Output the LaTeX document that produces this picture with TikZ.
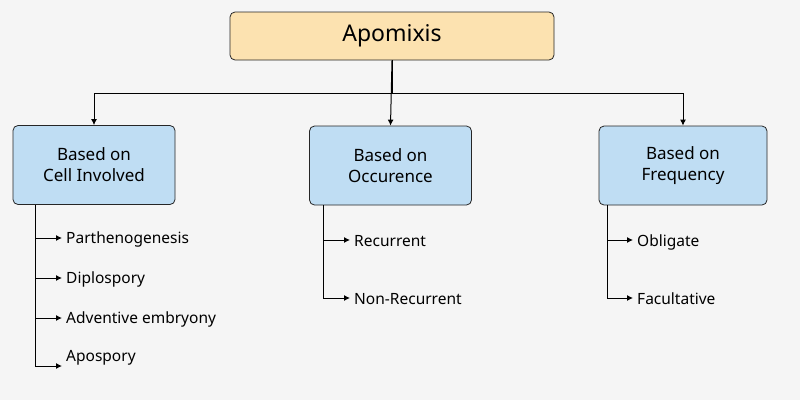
\documentclass[tikz,border=0pt]{standalone}
\usepackage{fontspec}
\setmainfont{Noto Sans}
\usetikzlibrary{arrows.meta}
\definecolor{bg}{HTML}{F5F5F5}
\definecolor{topfill}{HTML}{FCE2B0}
\definecolor{boxfill}{HTML}{BFDDF3}
\begin{document}
\begin{tikzpicture}[x=1pt,y=-1pt,
  box/.style={draw=black!85,line width=0.8pt,rounded corners=5pt,fill=boxfill,minimum width=162pt,minimum height=79pt,align=center,font=\fontsize{17}{21}\selectfont\bfseries},
  item/.style={anchor=west,font=\fontsize{15.5}{18}\selectfont,inner sep=2pt},
  arr/.style={-{Latex[length=6pt,width=6pt]},line width=1pt}]
\fill[bg] (0,0) rectangle (800,400);
\useasboundingbox (0,0) rectangle (800,400);
\node[box,fill=topfill,minimum width=324pt,minimum height=48pt,font=\fontsize{23}{27}\selectfont\bfseries] (top) at (392,36) {Apomixis};
\node[box] (b1) at (94,165) {Based on\\Cell Involved};
\node[box] (b2) at (390.5,165.5) {Based on\\Occurence};
\node[box,minimum width=168pt] (b3) at (683,165.5) {Based on\\Frequency};
\coordinate (j) at (392,93);
\draw[line width=1pt] (top.south) -- (j);
\draw[arr] (top.south) -- (b2.north);
\draw[arr] (j) -| (b1.north);
\draw[arr] (j) -| (b3.north);
% list 1
\coordinate (s1) at (35,205);
\node[item] (p1) at (64,239) {Parthenogenesis};
\node[item] (p2) at (64,279) {Diplospory};
\node[item] (p3) at (64,319) {Adventive embryony};
\node[item] (p4) at (64,358) {Apospory};
\draw[line width=1pt] (s1) -- (35,366);
\foreach \n/\y in {p1/238,p2/278,p3/318,p4/366}
  \draw[arr] (35,\y) -- (62,\y);
% list 2
\node[item] (q1) at (352,241) {Recurrent};
\node[item] (q2) at (352,299) {Non-Recurrent};
\draw[line width=1pt] (323,205) -- (323,298);
\draw[arr] (323,240) -- (350,240);
\draw[arr] (323,298) -- (350,298);
% list 3
\node[item] (r1) at (635,242) {Obligate};
\node[item] (r2) at (635,299) {Facultative};
\draw[line width=1pt] (607,205) -- (607,298);
\draw[arr] (607,240) -- (633,240);
\draw[arr] (607,298) -- (633,298);
\end{tikzpicture}
\end{document}
